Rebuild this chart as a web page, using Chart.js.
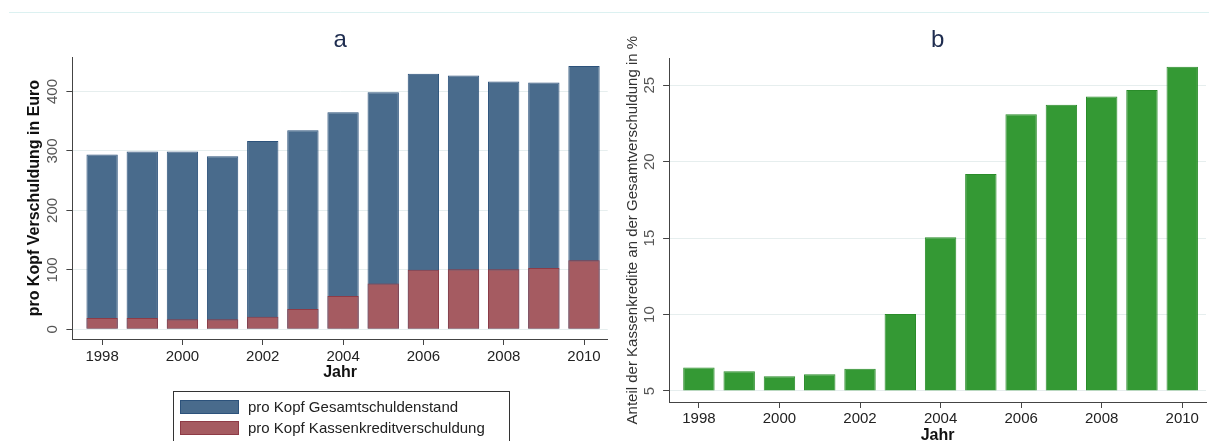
<!DOCTYPE html>
<html>
<head>
<meta charset="utf-8">
<script src="https://cdn.jsdelivr.net/npm/chart.js@4.4.1/dist/chart.umd.min.js"></script>
<style>
  html, body { margin: 0; padding: 0; background: #fff; }
  #wrap { position: relative; width: 1209px; height: 441px; overflow: hidden; font-family: "Liberation Sans", Arial, sans-serif; }
  .box { position: absolute; top: 0; height: 470px; }
  #topline { position: absolute; left: 9px; right: 0; top: 12px; height: 1px; background: #dcf1f1; }
  #legendA { position: absolute; left: 173px; top: 391px; width: 337px; height: 80px; border: 1px solid #333; box-sizing: border-box; }
  #legendA .item { position: absolute; left: 6px; height: 15px; display: flex; align-items: center; }
  #legendA .sw { width: 59px; height: 14px; box-sizing: border-box; border: 1px solid; margin-right: 9px; }
  #legendA .lbl { font-size: 15px; color: #222; white-space: nowrap; }
</style>
</head>
<body>
<div id="wrap">
  <div id="topline"></div>
  <div class="box" style="left:0; width:612px;"><canvas id="chartA"></canvas></div>
  <div class="box" style="left:612px; width:597px;"><canvas id="chartB"></canvas></div>
  <div id="legendA"></div>
</div>
<script>
/* ---- data --------------------------------------------------------- */
const years       = [1998, 1999, 2000, 2001, 2002, 2003, 2004, 2005, 2006, 2007, 2008, 2009, 2010];
const totalDebt   = [294, 299, 299, 291, 317, 335, 365, 399, 430, 427, 417, 415, 443];
const cashCredit  = [19, 19, 17, 17, 21, 34, 56, 77, 100, 101, 101, 103, 116];
const cashShare   = [6.53, 6.29, 5.96, 6.09, 6.46, 10.03, 15.05, 19.19, 23.10, 23.73, 24.26, 24.69, 26.21];
const yearTicks   = [1998, 2000, 2002, 2004, 2006, 2008, 2010];
const euroTicks   = [0, 100, 200, 300, 400];
const shareTicks  = [5, 10, 15, 20, 25];

/* ---- colours ------------------------------------------------------- */
const C_BLUE      = "#496b8c";
const C_BLUE_EDGE = "#2c527b";
const C_RED       = "#a55b61";
const C_RED_EDGE  = "#8e3b46";
const C_GREEN     = "#349934";
const C_GREEN_EDGE= "#2a8c2a";
const C_AXIS      = "#444";
const C_GRID      = "#e6eeee";
const FONT        = "'Liberation Sans', Arial, sans-serif";

const points = (vals) => years.map((y, i) => ({ x: y, y: vals[i] }));
const fixTicks = (list) => (scale) => { scale.ticks = list.map((v) => ({ value: v })); };

/* panel letter, centred over the plot area (Stata style) rather than the canvas */
const panelTitle = {
  id: "panelTitle",
  afterDraw(chart, args, opts) {
    const { ctx, chartArea } = chart;
    ctx.save();
    ctx.font = "24px " + FONT;
    ctx.fillStyle = "#1e2c4f";
    ctx.textAlign = "center";
    ctx.textBaseline = "middle";
    ctx.fillText(opts.text, (chartArea.left + chartArea.right) / 2, opts.y);
    ctx.restore();
  },
};

function xAxis(labelPad) {
  return {
    type: "linear",
    min: 1997.26, max: 2010.59,
    offset: false,
    grid: { drawOnChartArea: false, drawTicks: true, tickLength: 6, tickColor: C_AXIS, offset: false },
    border: { color: C_AXIS, width: 1 },
    ticks: { font: { family: FONT, size: 15 }, color: "#222", padding: labelPad,
             maxRotation: 0, autoSkip: false, callback: (v) => String(v) },
    title: { display: true, text: "Jahr", font: { family: FONT, size: 16, weight: "bold" },
             color: "#111", padding: 0 },
    afterBuildTicks: fixTicks(yearTicks),
    afterFit: (s) => { s.height = 43.5; },
  };
}

function yAxis(min, max, list, title, titleFont, titleColor, labelPad, width) {
  return {
    min: min, max: max,
    grid: { color: C_GRID, lineWidth: 1, drawTicks: true, tickLength: 6, tickColor: C_AXIS },
    border: { color: C_AXIS, width: 1 },
    ticks: { font: { family: FONT, size: 15 }, color: "#555", padding: labelPad,
             minRotation: 90, maxRotation: 90, crossAlign: "center", autoSkip: false,
             callback: (v) => String(v) },
    title: { display: true, text: title, font: titleFont, color: titleColor, padding: 0 },
    afterBuildTicks: fixTicks(list),
    afterFit: (s) => { s.width = width; },
  };
}

/* ---- panel a: per capita debt ------------------------------------- */
const chartA = new Chart(document.getElementById("chartA"), {
  type: "bar",
  plugins: [panelTitle],
  data: {
    datasets: [
      { label: "pro Kopf Gesamtschuldenstand", data: points(totalDebt),
        backgroundColor: C_BLUE, borderColor: C_BLUE_EDGE, borderWidth: 1, order: 2,
        grouped: false, barPercentage: 0.78, categoryPercentage: 1.0 },
      { label: "pro Kopf Kassenkreditverschuldung", data: points(cashCredit),
        backgroundColor: C_RED, borderColor: C_RED_EDGE, borderWidth: 1, order: 1,
        grouped: false, barPercentage: 0.78, categoryPercentage: 1.0 },
    ],
  },
  options: {
    responsive: true, maintainAspectRatio: false, animation: false,
    layout: { padding: { left: 25, right: 4.3, top: 57.3, bottom: 87.5 } },
    plugins: {
      legend: { display: false },
      tooltip: { enabled: false },
      panelTitle: { text: "a", y: 40.6 },
    },
    scales: {
      x: xAxis(3),
      y: yAxis(-16.3, 457.6, euroTicks, "pro Kopf Verschuldung in Euro",
               { family: FONT, size: 16, weight: "bold" }, "#111", 1, 47.4),
    },
  },
});

/* ---- panel b: share of cash credits ------------------------------- */
const chartB = new Chart(document.getElementById("chartB"), {
  type: "bar",
  plugins: [panelTitle],
  data: {
    datasets: [
      { label: "Anteil Kassenkredite", data: points(cashShare), base: 5,
        backgroundColor: C_GREEN, borderColor: C_GREEN_EDGE, borderWidth: 1,
        barPercentage: 0.78, categoryPercentage: 1.0 },
    ],
  },
  options: {
    responsive: true, maintainAspectRatio: false, animation: false,
    layout: { padding: { left: 12, right: 3, top: 58.3, bottom: 24.5 } },
    plugins: {
      legend: { display: false },
      tooltip: { enabled: false },
      panelTitle: { text: "b", y: 40.6 },
    },
    scales: {
      x: xAxis(1.5),
      y: yAxis(4.28, 26.76, shareTicks, "Anteil der Kassenkredite an der Gesamtverschuldung in %",
               { family: FONT, size: 15, weight: "normal" }, "#333", 5, 45.1),
    },
  },
});

/* ---- legend for panel a, built from the datasets ------------------ */
const legend = document.getElementById("legendA");
chartA.data.datasets.forEach((ds, i) => {
  const row = document.createElement("div");
  row.className = "item";
  row.style.top = (7 + i * 21) + "px";
  row.innerHTML = '<div class="sw" style="background:' + ds.backgroundColor +
                  ";border-color:" + ds.borderColor + '"></div><span class="lbl">' + ds.label + "</span>";
  legend.appendChild(row);
});
</script>
</body>
</html>
